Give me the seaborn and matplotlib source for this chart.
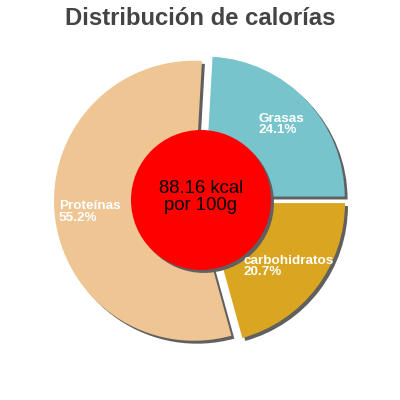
import matplotlib
matplotlib.use("Agg")
import matplotlib.pyplot as plt
import seaborn as sns
from matplotlib.patches import Circle

# ---- data ----
categories = ["Grasas", "Proteínas", "carbohidratos"]
shares = [24.1, 55.2, 20.7]
energy_label = "88.16 kcal\npor 100g"
title = "Distribución de calorías"

# ---- style ----
colors = ["#78c4cc", "#eec593", "#daa520"]
explode = [0.036, 0.05, 0.036]
shadow_color = "#606060"
shadow_off = 0.021

sns.set_theme(style="white")
plt.rcParams["font.family"] = ["Liberation Sans", "DejaVu Sans"]

fig = plt.figure(figsize=(4, 4), dpi=100)
ax = fig.add_axes([0, 0, 1, 1])

labels = [f"{c}\n{v:.1f}%" for c, v in zip(categories, shares)]

# shadow layer
ax.pie(shares, explode=explode, colors=[shadow_color] * len(shares),
       startangle=0, radius=1, center=(shadow_off, -shadow_off),
       wedgeprops=dict(linewidth=0))

wedges, texts = ax.pie(shares, explode=explode, colors=colors, startangle=0,
                       radius=1, labels=labels, labeldistance=0.75,
                       wedgeprops=dict(linewidth=0),
                       textprops=dict(color="white", fontweight="bold",
                                      fontsize=9.7))
for t in texts:
    t.set_ha("center")
    t.set_va("center")
    t.set_multialignment("left")
    t.set_linespacing(0.95)
    t.set_zorder(5)

# centre circle with shadow
ax.add_patch(Circle((shadow_off, -shadow_off), 0.5, fc=shadow_color, ec="none", zorder=3))
ax.add_patch(Circle((0, 0), 0.5, fc="red", ec="none", zorder=4))
ax.text(0, 0.02, energy_label, ha="center", va="center", fontsize=13.3,
        color="black", linespacing=1.0, zorder=6)

ax.set_xlim(-201 / 140, 199 / 140)
ax.set_ylim(-200 / 140, 200 / 140)
ax.set_aspect("equal")
ax.axis("off")

fig.text(0.5, 1 - 25 / 400, title, ha="center", va="baseline",
         fontsize=17.2, fontweight="bold", color="#444444")

fig.savefig("out.png", dpi=100, facecolor="white")
